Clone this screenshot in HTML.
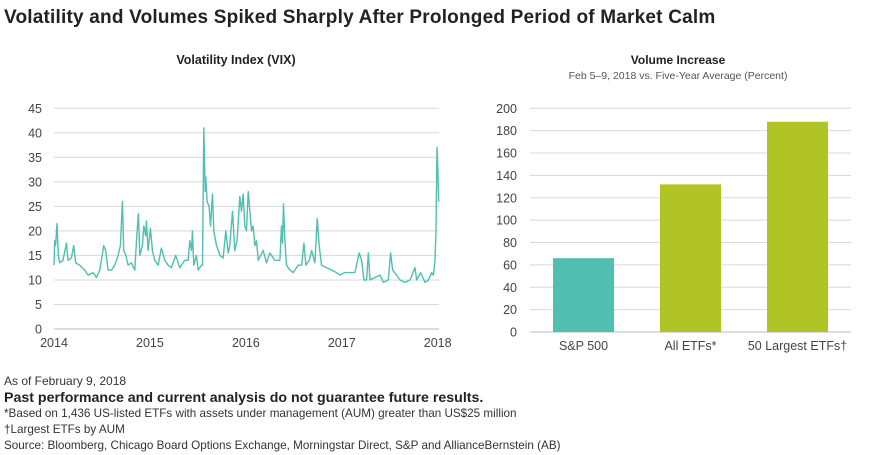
<!DOCTYPE html>
<html><head><meta charset="utf-8"><style>
body{margin:0;width:880px;height:455px;background:#fff;font-family:"Liberation Sans",sans-serif;color:#333;position:relative;overflow:hidden}
.t{position:absolute;white-space:nowrap}
</style></head><body>
<div class="t" style="left:4px;top:7px;font-size:19px;font-weight:bold;color:#222;letter-spacing:0.2px">Volatility and Volumes Spiked Sharply After Prolonged Period of Market Calm</div>
<svg id="vix" width="460" height="360" style="position:absolute;left:0;top:0" font-family="Liberation Sans, sans-serif"></svg>
<svg id="vol" width="420" height="360" style="position:absolute;left:460px;top:0" font-family="Liberation Sans, sans-serif"></svg>
<div class="t" style="left:4px;top:374px;font-size:12px">As of February 9, 2018</div>
<div class="t" style="left:4px;top:390px;font-size:14.2px;font-weight:bold;color:#222">Past performance and current analysis do not guarantee future results.</div>
<div class="t" style="left:4px;top:407px;font-size:11.7px">*Based on 1,436 US-listed ETFs with assets under management (AUM) greater than US$25 million</div>
<div class="t" style="left:4px;top:423px;font-size:11.7px">†Largest ETFs by AUM</div>
<div class="t" style="left:4px;top:439px;font-size:11.7px">Source: Bloomberg, Chicago Board Options Exchange, Morningstar Direct, S&amp;P and AllianceBernstein (AB)</div>
<script>
const vixYearOffset=[0,.007,.017,.031,.045,.059,.094,.129,.146,.181,.205,.226,.268,.320,.355,.407,.442,.476,.494,.518,.539,.563,.598,.633,.668,.692,.713,.727,.748,.772,.807,.842,.866,.880,.894,.922,.936,.956,.963,.981,1.005,1.026,1.050,1.085,1.120,1.155,1.189,1.224,1.269,1.311,1.363,1.398,1.416,1.433,1.443,1.457,1.485,1.503,1.537,1.548,1.562,1.576,1.583,1.596,1.617,1.631,1.652,1.666,1.694,1.729,1.763,1.791,1.816,1.833,1.861,1.885,1.909,1.937,1.955,1.972,1.989,2.007,2.024,2.042,2.059,2.076,2.094,2.111,2.129,2.181,2.215,2.250,2.302,2.355,2.372,2.382,2.393,2.407,2.424,2.459,2.494,2.546,2.581,2.605,2.626,2.661,2.685,2.720,2.744,2.765,2.789,2.842,2.894,2.946,2.981,3.033,3.085,3.137,3.182,3.207,3.231,3.259,3.276,3.294,3.346,3.398,3.433,3.485,3.509,3.530,3.572,3.607,3.659,3.711,3.763,3.781,3.822,3.868,3.902,3.937,3.955,3.972,3.982,3.993,4.000,4.010];
const vixValues=[13,18,17,21.5,15,13.5,14,17.5,14,14.5,17,13.5,13,12,11,11.5,10.5,12,14,17,16,12,12,13,15,17,26,16,15,13,13.5,12,20,23.5,15,17,21,19,22,16,20.5,16,14,13,16.5,14,13,12.5,15,12.5,14,14,18,16,20,13,15,12,13,13,41,28,31,26,25,21,27.5,20,17,15,14.5,20,15.5,17,24,16,18,27,24,27.5,21,20,28,24,20,21,17,18,14,16,13.5,15.5,14,14,21,17.5,25.5,18,13,12,11.5,13,13,17.5,13,14,16,13.5,22.5,17,13,12.5,12,11.5,11,11.5,11.5,11.5,15.5,14,10,10,15.5,10,10.5,11,9.5,10,15.5,12,11,10,9.5,10,12.5,10,11.5,9.5,10,11.5,11,14,20,37,33.5,26];
const vixYTicks=[0,5,10,15,20,25,30,35,40,45];
const vixXTicks=["2014","2015","2016","2017","2018"];
const volCategories=["S&P 500","All ETFs*","50 Largest ETFs†"];
const volValues=[66,132,188];
const volColors=["#50bfb0","#b1c425","#b1c425"];
const volYTicks=[0,20,40,60,80,100,120,140,160,180,200];
const NS="http://www.w3.org/2000/svg";
function mk(p,tag,a,txt){const e=document.createElementNS(NS,tag);for(const k in a)e.setAttribute(k,a[k]);if(txt!=null)e.textContent=txt;p.appendChild(e);return e;}
const v=document.getElementById('vix');
const vx=t=>54+t*(437.7-54)/4, vy=val=>329-val*(329-108.3)/45;
let e=mk(v,'text',{x:236,y:64,'text-anchor':'middle','font-size':12.5,'font-weight':'bold',fill:'#222'},'Volatility Index (VIX)');

vixYTicks.forEach(t=>{let g=mk(v,'line',{x1:54,x2:439,y1:vy(t),y2:vy(t),stroke:t==0?'#bbb':'#d8d8d8','stroke-width':1});

let l=mk(v,'text',{x:42,y:vy(t)+4.5,'text-anchor':'end','font-size':12.5,fill:'#444'},t);
});
vixXTicks.forEach((s,i)=>{let l=mk(v,'text',{x:vx(i),y:347,'text-anchor':'middle','font-size':12.5,fill:'#444'},s);
});
let pts=vixYearOffset.map((t,i)=>vx(t).toFixed(1)+','+vy(vixValues[i]).toFixed(1)).join(' ');
let pl=mk(v,'polyline',{points:pts,fill:'none',stroke:'#50bfb0','stroke-width':1.4,'stroke-linejoin':'round'});

const w=document.getElementById('vol');
const by=val=>332-val*(332-108.3)/200;
e=mk(w,'text',{x:218,y:64,'text-anchor':'middle','font-size':12,'font-weight':'bold',fill:'#222'},'Volume Increase');

e=mk(w,'text',{x:218,y:79,'text-anchor':'middle','font-size':10.5,fill:'#555'},'Feb 5–9, 2018 vs. Five-Year Average (Percent)');

volYTicks.forEach(t=>{let g=mk(w,'line',{x1:70,x2:391,y1:by(t),y2:by(t),stroke:t==0?'#bbb':'#d8d8d8','stroke-width':1});

let l=mk(w,'text',{x:57,y:by(t)+4.5,'text-anchor':'end','font-size':12.5,fill:'#444'},t);
});
volCategories.forEach((c,i)=>{const x0=93+i*107,bw=61;
let r=mk(w,'rect',{x:x0,y:by(volValues[i]),width:bw,height:by(0)-by(volValues[i]),fill:volColors[i]});

let l=mk(w,'text',{x:x0+bw/2,y:350,'text-anchor':'middle','font-size':12.5,fill:'#444'},c);
});
</script>
</body></html>
